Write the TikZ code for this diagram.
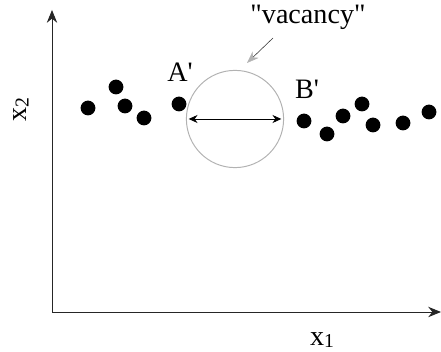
\documentclass[tikz,border=0pt]{standalone}
\usepackage{fontspec}
\setmainfont{Liberation Serif}
\usepackage{tikz}
\usetikzlibrary{positioning, arrows.meta}

\newcommand{\sub}[1]{{\fontsize{14pt}{14pt}\selectfont\raisebox{-1.5pt}{#1}}}

\begin{document}
\begin{tikzpicture}[x=0.025cm, y=-0.025cm]
    \tikzstyle{dot} = [circle, fill=black, inner sep=0pt, minimum size=0.37cm]
    \tikzstyle{hole} = [circle, draw=black!30, line width=0.7pt, inner sep=0pt, minimum size=2.43cm]
    \tikzstyle{lbl} = [inner sep=0pt, font=\fontsize{20pt}{22pt}\selectfont]
    \tikzstyle{axis} = [line width=0.7pt, black!85, {Stealth[length=0.32cm, width=0.26cm]}-{Stealth[length=0.32cm, width=0.26cm]}]
    \tikzstyle{span} = [line width=0.5pt, {Stealth[length=0.22cm, width=0.2cm]}-{Stealth[length=0.22cm, width=0.2cm]}]
    \tikzstyle{pointer} = [line width=0.4pt, black!80, -{Stealth[length=0.3cm, width=0.22cm, color=black!30]}]

    \useasboundingbox (0,0) rectangle (441,352);

    % axes
    \coordinate (O) at (52,312);
    \coordinate (ytop) at (52,10);
    \coordinate (xend) at (441,312);
    \draw [axis] (ytop) -- (O) -- (xend);
    \node (x1) [lbl] at (322,340) {x\sub{1}};
    \node (x2) [lbl, rotate=90] at (21,110) {x\sub{2}};

    % points left of the gap
    \node (a1) [dot] at (88,108) {};
    \node (a2) [dot] at (116,87) {};
    \node (a3) [dot] at (125,106) {};
    \node (a4) [dot] at (144,118) {};
    \node (a5) [dot] at (179,104) {};

    % points right of the gap
    \node (b1) [dot] at (304,121) {};
    \node (b2) [dot] at (327,134) {};
    \node (b3) [dot] at (343,116) {};
    \node (b4) [dot] at (362,104) {};
    \node (b5) [dot] at (373,125) {};
    \node (b6) [dot] at (403,123) {};
    \node (b7) [dot] at (429,112) {};

    % the vacancy
    \node (vac) [hole] at (235,119) {};
    \node (Alab) [lbl] at (180,72) {A\textquotesingle};
    \node (Blab) [lbl] at (307,89) {B\textquotesingle};
    \node (vaclab) [lbl] at (308,17) {\textquotedbl vacancy\textquotedbl};
    \coordinate (ptail) at (273,38);
    \coordinate (phead) at (247,63);

    \draw [span] ([xshift=2pt]vac.west) -- ([xshift=-2pt]vac.east);
    \draw [pointer] (ptail) -- (phead);
\end{tikzpicture}
\end{document}
